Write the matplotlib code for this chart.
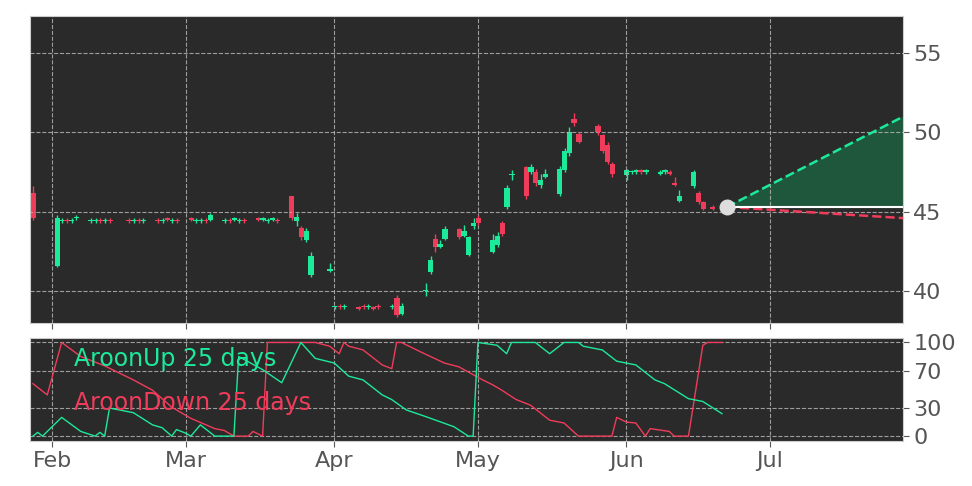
"""Candlestick chart with Aroon(25) panel and projection cone."""

import matplotlib

matplotlib.use("Agg")
import matplotlib.dates as mdates
import matplotlib.pyplot as plt
import numpy as np
import pandas as pd

GREEN = "#1de99b"
RED = "#f03c5a"
BG = "#2a2a2a"
# candles are drawn a bit left of the session date, as in the source chart
SHIFT = -0.9

dates = [
    "2025-01-27", "2025-01-28", "2025-01-29", "2025-02-03",
    "2025-02-04", "2025-02-05", "2025-02-06", "2025-02-07",
    "2025-02-10", "2025-02-11", "2025-02-12", "2025-02-13", "2025-02-14",
    "2025-02-18", "2025-02-19", "2025-02-20", "2025-02-21",
    "2025-02-24", "2025-02-25", "2025-02-26", "2025-02-27", "2025-02-28",
    "2025-03-03", "2025-03-04", "2025-03-05", "2025-03-06", "2025-03-07",
    "2025-03-10", "2025-03-11", "2025-03-12", "2025-03-13", "2025-03-14",
    "2025-03-17", "2025-03-18", "2025-03-19", "2025-03-20", "2025-03-21",
    "2025-03-24", "2025-03-25", "2025-03-26", "2025-03-27", "2025-03-28",
    "2025-04-01", "2025-04-02", "2025-04-03", "2025-04-04", "2025-04-07",
    "2025-04-08", "2025-04-09", "2025-04-10", "2025-04-11", "2025-04-14",
    "2025-04-15", "2025-04-16", "2025-04-21", "2025-04-22", "2025-04-23",
    "2025-04-24", "2025-04-25", "2025-04-28", "2025-04-29", "2025-04-30",
    "2025-05-01", "2025-05-02", "2025-05-05", "2025-05-06", "2025-05-07",
    "2025-05-08", "2025-05-09", "2025-05-12", "2025-05-13", "2025-05-14",
    "2025-05-15", "2025-05-16", "2025-05-19", "2025-05-20", "2025-05-21",
    "2025-05-22", "2025-05-23", "2025-05-27", "2025-05-28", "2025-05-29",
    "2025-05-30", "2025-06-02", "2025-06-03", "2025-06-04", "2025-06-05",
    "2025-06-06", "2025-06-09", "2025-06-10", "2025-06-11", "2025-06-12",
    "2025-06-13", "2025-06-16", "2025-06-17", "2025-06-18", "2025-06-20",
]
opens = [
    45.3, 44.8, 46.2, 41.6,
    44.4, 44.5, 44.4, 44.6,
    44.4, 44.4, 44.5, 44.4, 44.5,
    44.5, 44.4, 44.5, 44.4,
    44.5, 44.4, 44.6, 44.4, 44.5,
    44.6, 44.4, 44.4, 44.5, 44.5,
    44.4, 44.5, 44.5, 44.4, 44.5,
    44.6, 44.5, 44.4, 44.5, 44.5,
    46.0, 44.4, 44.0, 43.2, 41.0,
    41.3, 39.0, 39.1, 39.0, 39.0,
    39.1, 39.0, 39.0, 39.1, 39.0,
    39.6, 38.6, 40.0, 41.2, 43.3,
    42.8, 43.3, 43.9, 43.5, 42.3,
    44.1, 44.6, 42.5, 42.9, 44.3,
    45.3, 47.3, 47.8, 47.5, 47.5,
    46.7, 47.2, 46.1, 47.6, 48.7,
    50.8, 49.9, 50.4, 49.8, 49.2,
    48.0, 47.3, 47.5, 47.5, 47.6,
    47.5, 47.4, 47.5, 47.5, 46.8,
    45.7, 46.6, 46.2, 45.6, 45.3,
]
closes = [
    44.6, 46.0, 44.6, 44.6,
    44.5, 44.4, 44.5, 44.7,
    44.5, 44.5, 44.4, 44.5, 44.4,
    44.4, 44.5, 44.4, 44.5,
    44.4, 44.5, 44.5, 44.5, 44.4,
    44.5, 44.5, 44.5, 44.4, 44.8,
    44.5, 44.4, 44.6, 44.5, 44.4,
    44.5, 44.6, 44.5, 44.6, 44.4,
    44.6, 44.7, 43.4, 43.8, 42.2,
    41.4, 39.0, 39.0, 39.1, 38.9,
    39.0, 39.1, 38.9, 39.0, 39.1,
    38.5, 39.1, 40.1, 42.0, 42.8,
    43.0, 43.9, 43.4, 43.8, 43.4,
    44.3, 44.3, 43.2, 43.5, 43.6,
    46.5, 47.4, 46.0, 47.8, 46.8,
    47.0, 47.4, 47.7, 48.8, 50.0,
    50.6, 49.4, 50.0, 48.8, 48.1,
    47.4, 47.6, 47.5, 47.6, 47.5,
    47.6, 47.5, 47.6, 47.4, 46.7,
    46.0, 47.5, 45.6, 45.2, 45.2,
]
highs = [
    45.5, 46.1, 46.6, 44.8,
    44.6, 44.6, 44.6, 44.8,
    44.6, 44.6, 44.6, 44.6, 44.6,
    44.6, 44.6, 44.6, 44.6,
    44.6, 44.6, 44.7, 44.6, 44.6,
    44.7, 44.6, 44.6, 44.6, 44.9,
    44.6, 44.6, 44.7, 44.6, 44.6,
    44.7, 44.7, 44.6, 44.7, 44.6,
    46.0, 44.9, 44.1, 44.0, 42.5,
    41.8, 39.1, 39.2, 39.2, 39.1,
    39.2, 39.2, 39.1, 39.2, 39.2,
    39.8, 39.3, 40.5, 42.2, 43.6,
    43.2, 44.1, 44.0, 44.2, 43.5,
    44.6, 44.8, 43.6, 43.7, 44.4,
    46.7, 47.6, 47.9, 48.0, 47.7,
    47.4, 47.7, 47.9, 49.0, 50.3,
    51.2, 50.0, 50.5, 49.9, 49.4,
    48.1, 47.7, 47.6, 47.7, 47.7,
    47.7, 47.6, 47.7, 47.6, 47.2,
    46.4, 47.6, 46.3, 45.7, 45.4,
]
lows = [
    44.4, 44.6, 44.5, 41.5,
    44.3, 44.3, 44.3, 44.5,
    44.3, 44.3, 44.3, 44.3, 44.3,
    44.3, 44.3, 44.3, 44.3,
    44.3, 44.3, 44.4, 44.3, 44.3,
    44.4, 44.3, 44.3, 44.3, 44.4,
    44.3, 44.3, 44.4, 44.3, 44.3,
    44.4, 44.4, 44.3, 44.4, 44.3,
    44.5, 44.1, 43.2, 43.1, 40.9,
    41.2, 38.9, 38.9, 38.9, 38.8,
    38.9, 38.9, 38.8, 38.9, 38.9,
    38.4, 38.5, 39.7, 41.1, 42.5,
    42.7, 43.2, 43.3, 43.4, 42.2,
    43.9, 44.2, 42.4, 42.8, 43.5,
    45.2, 47.0, 45.8, 47.4, 46.6,
    46.5, 47.1, 46.0, 47.5, 48.5,
    50.4, 49.3, 49.8, 48.7, 48.0,
    47.2, 47.0, 47.4, 47.4, 47.4,
    47.4, 47.3, 47.4, 47.3, 46.6,
    45.6, 46.5, 45.5, 45.1, 45.1,
]

up_dates = [
    "2025-01-28", "2025-01-29", "2025-01-30", "2025-02-03", "2025-02-07",
    "2025-02-10", "2025-02-11", "2025-02-12", "2025-02-13", "2025-02-18",
    "2025-02-22", "2025-02-24", "2025-02-26", "2025-02-27", "2025-03-01",
    "2025-03-02", "2025-03-04", "2025-03-07", "2025-03-11", "2025-03-12",
    "2025-03-17", "2025-03-21", "2025-03-25", "2025-03-28", "2025-04-01",
    "2025-04-04", "2025-04-07", "2025-04-11", "2025-04-13", "2025-04-16",
    "2025-04-20", "2025-04-26", "2025-04-29", "2025-04-30", "2025-05-01",
    "2025-05-05", "2025-05-07", "2025-05-08", "2025-05-13", "2025-05-16",
    "2025-05-19", "2025-05-22", "2025-05-23", "2025-05-27", "2025-05-30",
    "2025-06-03", "2025-06-07", "2025-06-09", "2025-06-14", "2025-06-17",
    "2025-06-21",
]
aroon_up = [
    0, 4, 0, 20, 5, 0, 4, 0, 30, 25,
    12, 9, 0, 7, 3, 0, 12, 0, 0, 85,
    71, 57, 100, 83, 78, 64, 60, 44, 39, 28,
    21, 10, 0, 0, 100, 97, 88, 100, 100, 88,
    100, 100, 96, 92, 80, 76, 60, 56, 40, 37,
    24,
]
down_dates = [
    "2025-01-28", "2025-01-31", "2025-02-03", "2025-02-07", "2025-02-12",
    "2025-02-18", "2025-02-22", "2025-02-26", "2025-03-02", "2025-03-07",
    "2025-03-09", "2025-03-11", "2025-03-14", "2025-03-15", "2025-03-17",
    "2025-03-18", "2025-03-28", "2025-03-31", "2025-04-02", "2025-04-03",
    "2025-04-04", "2025-04-07", "2025-04-11", "2025-04-13", "2025-04-14",
    "2025-04-15", "2025-04-19", "2025-04-24", "2025-04-27", "2025-05-02",
    "2025-05-04", "2025-05-06", "2025-05-09", "2025-05-12", "2025-05-16",
    "2025-05-19", "2025-05-22", "2025-05-29", "2025-05-30", "2025-06-01",
    "2025-06-03", "2025-06-05", "2025-06-06", "2025-06-10", "2025-06-11",
    "2025-06-14", "2025-06-17", "2025-06-18", "2025-06-21",
]
aroon_down = [
    56, 44, 100, 85, 75, 60, 49, 31, 19, 8,
    6, 0, 0, 5, 0, 100, 100, 96, 88, 100,
    96, 92, 76, 72, 100, 100, 90, 78, 74, 60,
    55, 49, 39, 33, 17, 14, 0, 0, 20, 15,
    14, 0, 8, 5, 0, 0, 97, 100, 100,
]

proj_start = ("2025-06-22", 45.3)
proj_end_date = "2025-07-28"
proj_high = 51.0
proj_low = 44.6


def main() -> None:
    d = mdates.date2num(pd.to_datetime(dates)) + SHIFT
    o, c = np.array(opens), np.array(closes)
    h, l = np.array(highs), np.array(lows)

    fig = plt.figure(figsize=(9.72, 4.86), dpi=100)
    ax = fig.add_axes([0.031, 0.335, 0.898, 0.632])
    ax2 = fig.add_axes([0.031, 0.093, 0.898, 0.212], sharex=ax)

    for a in (ax, ax2):
        a.set_facecolor(BG)
        a.grid(True, color="#bbbbbb", linestyle="--", linewidth=0.8, alpha=0.8)
        a.yaxis.tick_right()
        a.tick_params(colors="#555555", labelsize=16, length=4)
        for s in a.spines.values():
            s.set_color("#cccccc")

    # candles
    cols = np.where(c >= o, GREEN, RED)
    ax.vlines(d, l, h, colors=cols, linewidth=1)
    body = np.maximum(np.abs(c - o), 0.08)
    ax.bar(d, body, bottom=np.minimum(o, c), width=1.1, color=cols, linewidth=0)

    # projection cone
    x0 = mdates.date2num(pd.Timestamp(proj_start[0]))
    x1 = mdates.date2num(pd.Timestamp(proj_end_date)) + 1
    y0 = proj_start[1]
    ax.fill_between([x0, x1], [y0, y0], [y0, proj_high], color="#1e5a3e", alpha=0.95)
    ax.plot([x0, x1], [y0, proj_high], color=GREEN, linestyle="--", linewidth=1.8)
    ax.plot([x0, x1], [y0, proj_low], color=RED, linestyle="--", linewidth=1.8)
    ax.plot([x0, x1], [y0, y0], color="white", linewidth=1.5)
    ax.scatter([x0], [y0], s=110, color="#dddddd", zorder=5)

    ax.set_ylim(38.0, 57.3)
    ax.set_yticks([40, 45, 50, 55])
    ax.set_xlim(mdates.date2num(pd.Timestamp("2025-01-27 10:00")),
                mdates.date2num(pd.Timestamp("2025-07-28 20:00")))
    ax.xaxis.set_major_locator(mdates.MonthLocator())
    ax.xaxis.set_major_formatter(mdates.DateFormatter("%b"))
    plt.setp(ax.get_xticklabels(), visible=False)

    # aroon
    ax2.plot(pd.to_datetime(down_dates), aroon_down, color=RED, linewidth=1)
    ax2.plot(pd.to_datetime(up_dates), aroon_up, color=GREEN, linewidth=1)
    ax2.set_ylim(-5, 105)
    ax2.set_yticks([0, 30, 70, 100])
    ax2.text(0.05, 0.79, "AroonUp 25 days", color=GREEN, fontsize=17,
             transform=ax2.transAxes, va="center")
    ax2.text(0.05, 0.37, "AroonDown 25 days", color=RED, fontsize=17,
             transform=ax2.transAxes, va="center")

    fig.savefig("out.png", dpi=100)
    plt.close(fig)


if __name__ == "__main__":
    main()
